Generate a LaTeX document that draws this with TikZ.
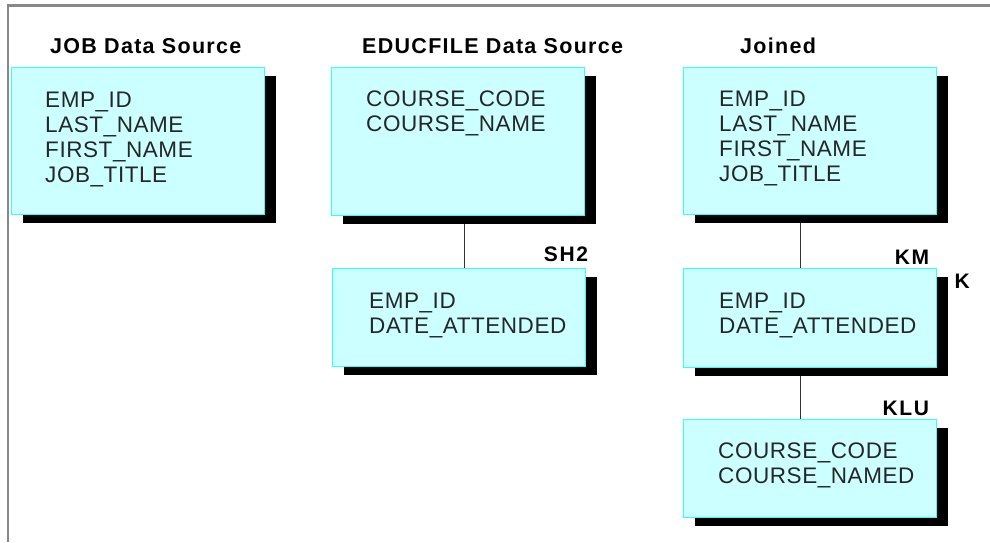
\documentclass[tikz,border=0pt]{standalone}
\usepackage{fontspec}
\setmainfont{Liberation Sans}
\newfontfamily\ttlfont[LetterSpace=6]{Liberation Sans Bold}
\newfontfamily\lblfont[LetterSpace=8]{Liberation Sans Bold}
\newfontfamily\fldfont[LetterSpace=2.5]{Liberation Sans}
\usetikzlibrary{calc,shadows}
\definecolor{boxfill}{HTML}{CCFFFF}
\definecolor{boxline}{HTML}{33FFFF}
\definecolor{frameg}{HTML}{888888}
\tikzset{
  tbox/.style={draw=boxline, fill=boxfill, line width=1.3pt, inner sep=0pt,
    general shadow={fill=black, shadow xshift=11pt, shadow yshift=-8pt}},
  fields/.style={anchor=north west, inner sep=0pt, align=left,
    font=\fldfont\fontsize{22.5}{25}\selectfont, text=black!85},
  ttl/.style={anchor=base west, inner sep=0pt, font=\ttlfont\fontsize{21.5}{25}\selectfont},
  lbl/.style={inner sep=0pt, font=\lblfont\fontsize{21}{24}\selectfont},
  link/.style={draw=black!80, line width=0.9pt}
}
\begin{document}
\begin{tikzpicture}[x=1pt,y=-1pt]
\useasboundingbox (0,0) rectangle (990,542);
\fill[white] (0,0) rectangle (990,542);
\draw[frameg, line width=2.5pt] (8,542) -- (8,5.3) -- (990,5.3);

% boxes
\node[tbox, minimum width=253pt, minimum height=147pt, anchor=north west] (job) at (11,67) {};
\node[tbox, minimum width=253pt, minimum height=148pt, anchor=north west] (edu1) at (331,67) {};
\node[tbox, minimum width=253pt, minimum height=98pt, anchor=north west] (edu2) at (332,268) {};
\node[tbox, minimum width=253pt, minimum height=147pt, anchor=north west] (jn1) at (683,67) {};
\node[tbox, minimum width=253pt, minimum height=99pt, anchor=north west] (jn2) at (683,268) {};
\node[tbox, minimum width=253pt, minimum height=98pt, anchor=north west] (jn3) at (683,419) {};

% titles
\node[ttl] (tjob) at ($(job.north west)+(39,-13.5)$) {JOB Data Source};
\node[ttl] (tedu) at ($(edu1.north west)+(31,-14)$) {EDUCFILE Data Source};
\node[ttl] (tjn) at ($(jn1.north west)+(57,-14)$) {Joined};

% field lists
\node[fields] (fjob) at ($(job.north west)+(34,25)$) {EMP\_ID\\LAST\_NAME\\FIRST\_NAME\\JOB\_TITLE};
\node[fields] (fedu1) at ($(edu1.north west)+(35,24)$) {COURSE\_CODE\\COURSE\_NAME};
\node[fields] (fedu2) at ($(edu2.north west)+(37,25)$) {EMP\_ID\\DATE\_ATTENDED};
\node[fields] (fjn1) at ($(jn1.north west)+(36,24)$) {EMP\_ID\\LAST\_NAME\\FIRST\_NAME\\JOB\_TITLE};
\node[fields] (fjn2) at ($(jn2.north west)+(36,25)$) {EMP\_ID\\DATE\_ATTENDED};
\node[fields] (fjn3) at ($(jn3.north west)+(35,24)$) {COURSE\_CODE\\COURSE\_NAMED};

% connectors
\draw[link] ([xshift=6.5pt,yshift=-8pt]edu1.south) -- ([xshift=6.5pt]edu1.south |- edu2.north);
\draw[link] ([xshift=-9.5pt,yshift=-8pt]jn1.south) -- ([xshift=-9.5pt]jn1.south |- jn2.north);
\draw[link] ([xshift=-9.5pt,yshift=-8pt]jn2.south) -- ([xshift=-9.5pt]jn2.south |- jn3.north);

% labels
\node[lbl, anchor=base east] (sh2) at ($(edu2.north east)+(2,-7)$) {SH2};
\node[lbl, anchor=base east] (km) at ($(jn2.north east)+(-8,-4)$) {KM};
\node[lbl, anchor=base west] (k) at ($(jn2.north east)+(17,20)$) {K};
\node[lbl, anchor=base east] (klu) at ($(jn3.north east)+(-8,-4)$) {KLU};
\end{tikzpicture}
\end{document}
